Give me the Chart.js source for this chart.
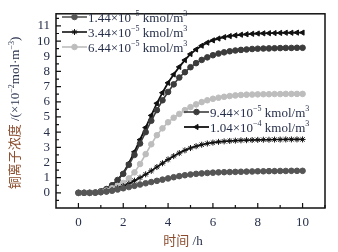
<!DOCTYPE html>
<html>
<head>
<meta charset="utf-8">
<script src="https://cdn.jsdelivr.net/npm/chart.js@4.4.1/dist/chart.umd.min.js"></script>
<style>
  html, body { margin: 0; padding: 0; background: #fff; }
  #wrap { width: 338px; height: 252px; }
</style>
</head>
<body>
<div id="wrap"><canvas id="chart"></canvas></div>
<script>
// time in h
var times = [0, 0.25, 0.5, 0.75, 1, 1.25, 1.5, 1.75, 2, 2.25, 2.5, 2.75, 3, 3.25, 3.5, 3.75,
  4, 4.25, 4.5, 4.75, 5, 5.25, 5.5, 5.75, 6, 6.25, 6.5, 6.75, 7, 7.25, 7.5, 7.75,
  8, 8.25, 8.5, 8.75, 9, 9.25, 9.5, 9.75, 10];

// copper ion concentration (x10^-2 mol/m3)
var c144 = [0, 0, 0, 0.01, 0.04, 0.08, 0.14, 0.22, 0.3, 0.38, 0.46, 0.55, 0.63, 0.71, 0.79, 0.87,
  0.95, 1.03, 1.1, 1.16, 1.21, 1.25, 1.28, 1.31, 1.33, 1.35, 1.36, 1.37, 1.38, 1.39, 1.4, 1.41,
  1.42, 1.42, 1.43, 1.43, 1.44, 1.44, 1.45, 1.45, 1.45];
var c344 = [0, 0, 0, 0.01, 0.04, 0.1, 0.18, 0.3, 0.44, 0.6, 0.8, 1.0, 1.22, 1.45, 1.7, 1.95,
  2.2, 2.42, 2.62, 2.8, 2.95, 3.07, 3.17, 3.25, 3.31, 3.36, 3.39, 3.42, 3.44, 3.46, 3.47, 3.48,
  3.49, 3.5, 3.5, 3.51, 3.51, 3.52, 3.52, 3.52, 3.52];
var c644 = [0, 0, 0, 0.01, 0.05, 0.15, 0.3, 0.45, 0.65, 0.95, 1.35, 1.9, 2.55, 3.2, 3.8, 4.25,
  4.65, 4.95, 5.2, 5.45, 5.65, 5.83, 5.98, 6.1, 6.2, 6.27, 6.33, 6.38, 6.42, 6.45, 6.47, 6.48,
  6.49, 6.5, 6.5, 6.51, 6.51, 6.52, 6.52, 6.52, 6.52];
var c944 = [0, 0, 0, 0.02, 0.1, 0.25, 0.5, 0.85, 1.25, 1.85, 2.5, 3.25, 4.0, 4.75, 5.45, 6.1,
  6.65, 7.15, 7.6, 7.95, 8.28, 8.55, 8.76, 8.93, 9.07, 9.18, 9.26, 9.33, 9.38, 9.42, 9.45, 9.48,
  9.5, 9.51, 9.52, 9.53, 9.54, 9.55, 9.55, 9.56, 9.56];
var c104 = [0, 0, 0, 0.02, 0.1, 0.25, 0.5, 0.85, 1.3, 1.95, 2.7, 3.5, 4.3, 5.1, 5.9, 6.6,
  7.25, 7.8, 8.3, 8.75, 9.15, 9.45, 9.7, 9.9, 10.05, 10.17, 10.26, 10.33, 10.38, 10.42, 10.45, 10.48,
  10.5, 10.51, 10.52, 10.53, 10.54, 10.55, 10.55, 10.56, 10.56];

// legend labels: [mantissa, exponent]
var labelNums = [["1.44", "-5"], ["3.44", "-5"], ["6.44", "-5"], ["9.44", "-5"], ["1.04", "-4"]];
var xTicks = [0, 2, 4, 6, 8, 10];
var yTicks = [0, 1, 2, 3, 4, 5, 6, 7, 8, 9, 10, 11];

var serif = '"Liberation Serif", "Times New Roman", serif';
var cjk = '"Noto Sans CJK SC", sans-serif';
var navy = '#27304a';
var brown = '#8a4b2c';

function pts(ys) {
  return times.map(function(t, i) { return { x: t, y: ys[i] }; });
}

function ds(ys, color, style, r, rot, bw) {
  return {
    data: pts(ys),
    borderColor: color,
    backgroundColor: color,
    pointBackgroundColor: color,
    pointBorderColor: color,
    pointStyle: style,
    pointRadius: r,
    pointRotation: rot,
    pointBorderWidth: 1,
    borderWidth: bw,
    tension: 0
  };
}

var datasets = [
  ds(c144, '#555555', 'circle', 2.8, 0, 1.6),
  ds(c344, '#111111', 'star', 3, 0, 1.6),
  ds(c644, '#bdbdbd', 'circle', 2.8, 0, 1.6),
  ds(c944, '#3c3c3c', 'circle', 2.8, 0, 1.6),
  ds(c104, '#111111', 'triangle', 3, -90, 1.8)
];

// text with superscripts, parts = [text, sup, color, font]
function richWidth(ctx, parts, size) {
  var w = 0;
  parts.forEach(function(p) {
    ctx.font = (p[1] ? Math.round(size * 0.62) : size) + 'px ' + (p[3] || serif);
    w += ctx.measureText(p[0]).width;
  });
  return w;
}
function drawRich(ctx, parts, x, y, size) {
  ctx.textBaseline = 'alphabetic';
  ctx.textAlign = 'left';
  parts.forEach(function(p) {
    var fs = p[1] ? Math.round(size * 0.62) : size;
    ctx.font = fs + 'px ' + (p[3] || serif);
    ctx.fillStyle = p[2];
    ctx.fillText(p[0], x, p[1] ? y - size * 0.42 : y);
    x += ctx.measureText(p[0]).width;
  });
}

var decorations = {
  id: 'decorations',
  afterDraw: function(chart) {
    var ctx = chart.ctx;
    var a = chart.chartArea;
    var xs = chart.scales.x, ys = chart.scales.y;
    ctx.save();

    // frame
    ctx.strokeStyle = '#111';
    ctx.lineWidth = 1.5;
    ctx.strokeRect(a.left, a.top, a.right - a.left, a.bottom - a.top);

    // inward ticks
    ctx.lineWidth = 1.2;
    ctx.beginPath();
    yTicks.forEach(function(v) {
      var py = ys.getPixelForValue(v);
      ctx.moveTo(a.left, py); ctx.lineTo(a.left + 5, py);
      var pm = ys.getPixelForValue(v + 0.5);
      if (pm > a.top) { ctx.moveTo(a.left, pm); ctx.lineTo(a.left + 3, pm); }
    });
    var pm0 = ys.getPixelForValue(-0.5);
    ctx.moveTo(a.left, pm0); ctx.lineTo(a.left + 3, pm0);
    xTicks.forEach(function(v) {
      var px = xs.getPixelForValue(v);
      ctx.moveTo(px, a.bottom); ctx.lineTo(px, a.bottom - 5);
      var pm = xs.getPixelForValue(v + 1);
      ctx.moveTo(pm, a.bottom); ctx.lineTo(pm, a.bottom - 3);
    });
    ctx.stroke();

    // legends
    function legendRow(i, x0, y) {
      var d = chart.data.datasets[i];
      ctx.strokeStyle = d.borderColor;
      ctx.lineWidth = d.borderWidth;
      ctx.beginPath(); ctx.moveTo(x0, y); ctx.lineTo(x0 + 25, y); ctx.stroke();
      ctx.fillStyle = d.pointBackgroundColor;
      ctx.strokeStyle = d.pointBorderColor;
      ctx.lineWidth = 1;
      Chart.helpers.drawPoint(ctx, {
        pointStyle: d.pointStyle, radius: d.pointRadius, rotation: d.pointRotation, borderWidth: 1
      }, x0 + 12.5, y);
      var n = labelNums[i];
      drawRich(ctx, [
        [n[0] + '\u00d710', false, navy],
        [n[1].replace('-', '\u2212'), true, navy],
        [' kmol/m', false, navy],
        ['3', true, navy]
      ], x0 + 26, y + 4.5, 13);
    }
    legendRow(0, 62, 17);
    legendRow(1, 62, 32);
    legendRow(2, 62, 47);
    legendRow(3, 184, 112);
    legendRow(4, 184, 127);

    // x title
    var xt = [['时间', false, brown, cjk], [' /h', false, navy]];
    var w = richWidth(ctx, xt, 13);
    drawRich(ctx, xt, 183 - w / 2, 245, 13);

    // y title
    var yt = [['铜离子浓度', false, brown, cjk], [' /(\u00d710', false, navy],
      ['\u22122', true, navy], ['mol\u00b7m', false, navy], ['\u22123', true, navy], [')', false, navy]];
    ctx.translate(19, 113);
    ctx.rotate(-Math.PI / 2);
    var wy = richWidth(ctx, yt, 13);
    drawRich(ctx, yt, -wy / 2, 0, 13);

    ctx.restore();
  }
};

new Chart(document.getElementById('chart'), {
  type: 'line',
  data: { datasets: datasets },
  options: {
    responsive: true,
    maintainAspectRatio: false,
    animation: false,
    layout: { padding: { top: 6, right: 13, left: 0, bottom: 0 } },
    plugins: { legend: { display: false }, tooltip: { enabled: false } },
    scales: {
      x: {
        type: 'linear',
        min: -1,
        max: 11,
        afterBuildTicks: function(s) { s.ticks = xTicks.map(function(v) { return { value: v }; }); },
        afterFit: function(s) { s.height = 44; },
        grid: { display: false, drawTicks: false },
        border: { display: false },
        ticks: { color: navy, font: { family: serif, size: 13 }, padding: 7, maxRotation: 0, autoSkip: false }
      },
      y: {
        min: -1,
        max: 11.8,
        afterBuildTicks: function(s) { s.ticks = yTicks.map(function(v) { return { value: v }; }); },
        afterFit: function(s) { s.width = 56; },
        grid: { display: false, drawTicks: false },
        border: { display: false },
        ticks: { color: navy, font: { family: serif, size: 13 }, padding: 6, autoSkip: false }
      }
    }
  },
  plugins: [decorations]
});
</script>
</body>
</html>
